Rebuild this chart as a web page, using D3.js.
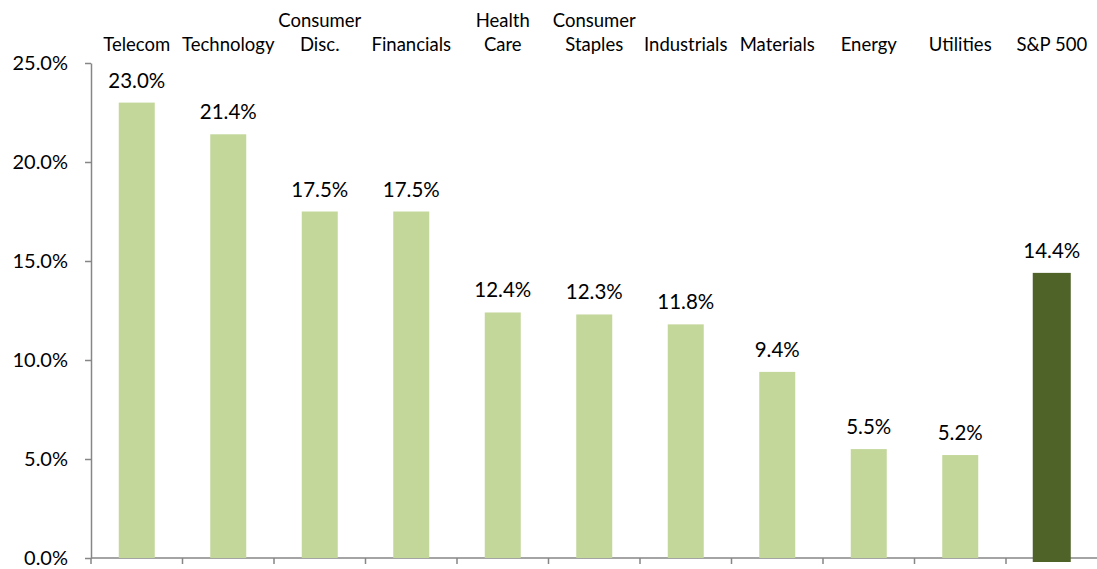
<!DOCTYPE html>
<html>
<head>
<meta charset="utf-8">
<script src="https://cdn.jsdelivr.net/npm/d3@7"></script>
<style>
  html, body { margin: 0; padding: 0; background: #fff; }
  svg { display: block; }
  text { font-family: Lato, "Open Sans", sans-serif; fill: #000; }
</style>
</head>
<body>
<svg id="chart" width="1097" height="569"></svg>
<script>
const categories = ["Telecom", "Technology", "Consumer Disc.", "Financials", "Health Care",
  "Consumer Staples", "Industrials", "Materials", "Energy", "Utilities", "S&P 500"];
const categoryLines = [["Telecom"], ["Technology"], ["Consumer", "Disc."], ["Financials"], ["Health", "Care"],
  ["Consumer", "Staples"], ["Industrials"], ["Materials"], ["Energy"], ["Utilities"], ["S&P 500"]];
const values = [23.0, 21.4, 17.5, 17.5, 12.4, 12.3, 11.8, 9.4, 5.5, 5.2, 14.4];
const yTicks = [0, 5, 10, 15, 20, 25];
const highlight = "S&P 500";

const svg = d3.select("#chart");
const axisColor = "#868686";

const x = d3.scaleBand().domain(categories).range([91, 1097.5]).padding(0);
const y = d3.scaleLinear().domain([0, 25]).range([558, 63]);

// Y axis
const yAxis = svg.append("g")
  .attr("transform", "translate(91,0)")
  .call(d3.axisLeft(y).tickValues(yTicks).tickSize(6).tickSizeOuter(0).tickPadding(17)
    .tickFormat(d => d.toFixed(1) + "%"));
yAxis.select(".domain").attr("stroke", axisColor).attr("stroke-width", 1.5);
yAxis.selectAll(".tick line").attr("stroke", axisColor).attr("stroke-width", 1.5);
yAxis.selectAll(".tick text").attr("font-size", 20).attr("font-family", "Lato, sans-serif").attr("fill", "#000");

// X axis (ticks at band boundaries)
const xAxisG = svg.append("g");
xAxisG.append("line")
  .attr("x1", x.range()[0]).attr("x2", x.range()[1])
  .attr("y1", y(0)).attr("y2", y(0))
  .attr("stroke", axisColor).attr("stroke-width", 1.5);
xAxisG.selectAll("line.xt")
  .data(categories)
  .join("line")
  .attr("class", "xt")
  .attr("x1", d => x(d)).attr("x2", d => x(d))
  .attr("y1", y(0)).attr("y2", y(0) + 6)
  .attr("stroke", axisColor).attr("stroke-width", 1.5);

// Bars
const barW = 36;
svg.append("g").selectAll("rect")
  .data(categories)
  .join("rect")
  .attr("x", (d, i) => x(d) + x.bandwidth() / 2 - (d === highlight ? barW + 2 : barW) / 2)
  .attr("width", d => d === highlight ? barW + 2 : barW)
  .attr("y", (d, i) => y(values[i]))
  .attr("height", (d, i) => y(0) - y(values[i]) + (d === highlight ? 4 : 0))
  .attr("fill", d => d === highlight ? "#4F6228" : "#C4D79B");

// Value labels
svg.append("g").selectAll("text")
  .data(categories)
  .join("text")
  .attr("x", d => x(d) + x.bandwidth() / 2)
  .attr("y", (d, i) => y(values[i]) - 15)
  .attr("text-anchor", "middle")
  .attr("font-size", 20.5)
  .text((d, i) => values[i].toFixed(1) + "%");

// Category labels at top
const catG = svg.append("g").selectAll("text")
  .data(categories)
  .join("text")
  .attr("text-anchor", "middle")
  .attr("font-size", 18.5)
  .attr("x", d => x(d) + x.bandwidth() / 2);
catG.each(function (d, i) {
  const lines = categoryLines[i];
  const t = d3.select(this);
  lines.forEach((ln, j) => {
    t.append("tspan")
      .attr("x", x(d) + x.bandwidth() / 2)
      .attr("y", 51 - (lines.length - 1 - j) * 24)
      .text(ln);
  });
});
</script>
</body>
</html>
